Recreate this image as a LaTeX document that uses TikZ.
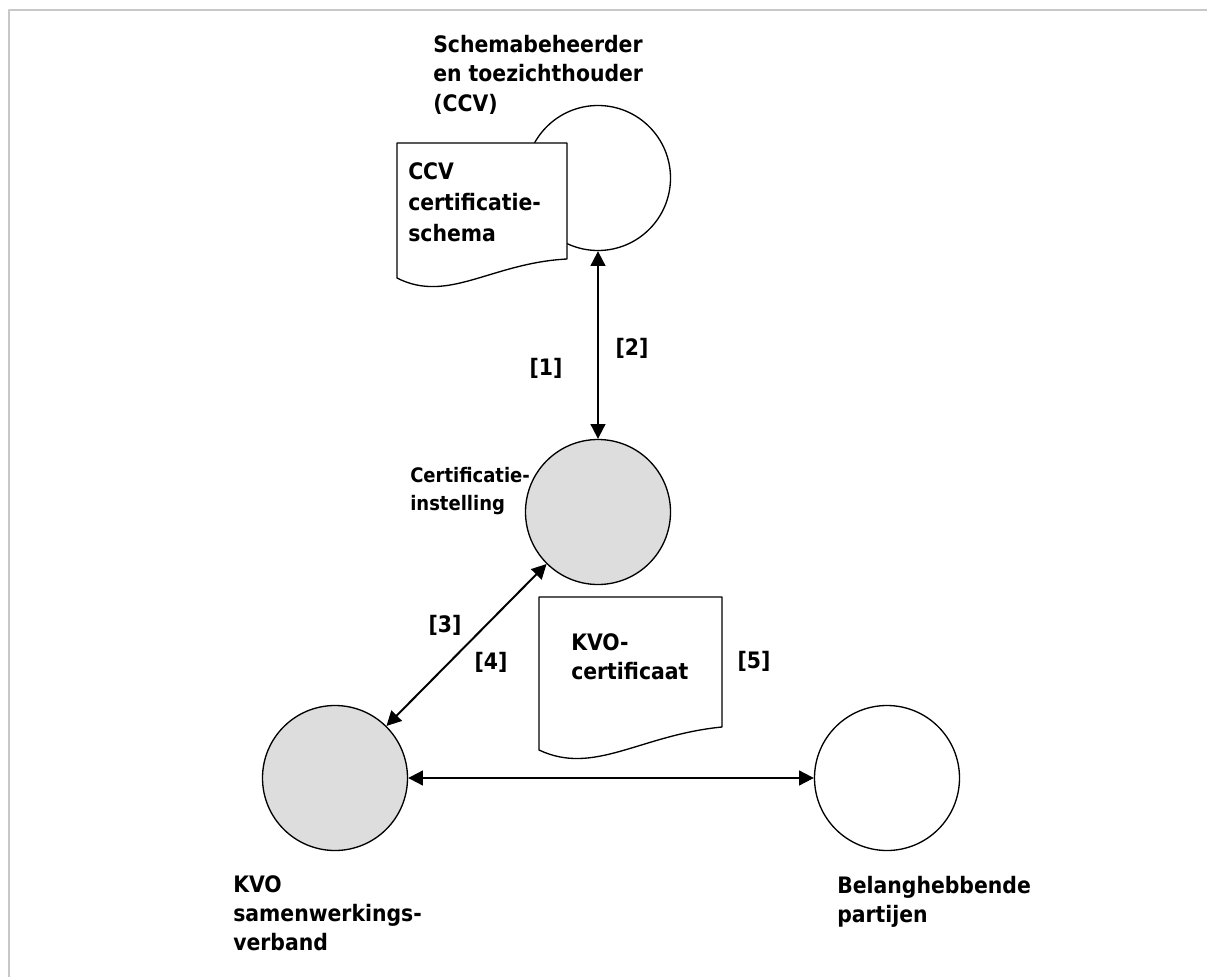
\documentclass[tikz,border=0pt]{standalone}
\usepackage{fontspec}
\setmainfont{DejaVu Sans Condensed}
\usepackage{tikz}
\usetikzlibrary{arrows.meta}
\definecolor{kadergrijs}{HTML}{C8C8C8}
\definecolor{vulgrijs}{HTML}{DDDDDD}

\begin{document}
\begin{tikzpicture}[line cap=round,line join=round,>={Triangle[length=11pt,width=11pt]},x=0.75pt,y=-0.75pt,
  partij/.style={circle,draw=black,line width=1pt,minimum size=108.75pt,inner sep=0pt},
  partijgrijs/.style={partij,fill=vulgrijs},
  relatie/.style={<->,line width=1.5pt},
  tekst/.style={anchor=north west,inner sep=0pt,align=left,font=\fontsize{17}{22}\selectfont\bfseries},
  nummer/.style={inner sep=0pt,font=\fontsize{17}{22}\selectfont\bfseries},
  document/.style={draw=black,line width=1pt,fill=white}]

\useasboundingbox (0,0) rectangle (1207,977);
\draw[kadergrijs,line width=1.5pt,line cap=butt] (9,977) -- (9,10) -- (1207,10);

% partijen
\node[partij] (ccv) at (598,178) {};
\node[partijgrijs] (ci) at (598,512) {};
\node[partijgrijs] (kvo) at (335,778) {};
\node[partij] (bel) at (887,778) {};

% documenten
\draw[document] (397,143) -- (567,143) -- (567,259)
  .. controls (491,263) and (448,304) .. (397,278) -- cycle;
\draw[document] (539,597) -- (722,597) -- (722,727)
  .. controls (640,735) and (594,776) .. (539,750) -- cycle;

% relaties
\draw[relatie] (ccv) -- (ci);
\draw[relatie] (ci) -- (kvo);
\draw[relatie] (kvo) -- (bel);

% teksten
\node[tekst] (t_ccv) at (433,35) {Schemabeheerder\\en toezichthouder\\(CCV)};
\node[tekst,font=\fontsize{17}{23.5}\selectfont\bfseries] (t_schema) at (408,162) {CCV\\certificatie-\\schema};
\node[tekst,font=\fontsize{15}{21}\selectfont\bfseries] (t_ci) at (410,467) {Certificatie-\\instelling};
\node[tekst] (t_cert) at (571,633) {KVO-\\certificaat};
\node[tekst] (t_kvo) at (233,875) {KVO\\samenwerkings-\\verband};
\node[tekst] (t_bel) at (837,876) {Belanghebbende\\partijen};

\node[nummer] (n1) at (546,368) {[1]};
\node[nummer] (n2) at (632,348) {[2]};
\node[nummer] (n3) at (445,625) {[3]};
\node[nummer] (n4) at (491,662) {[4]};
\node[nummer] (n5) at (754,661) {[5]};
\end{tikzpicture}
\end{document}
